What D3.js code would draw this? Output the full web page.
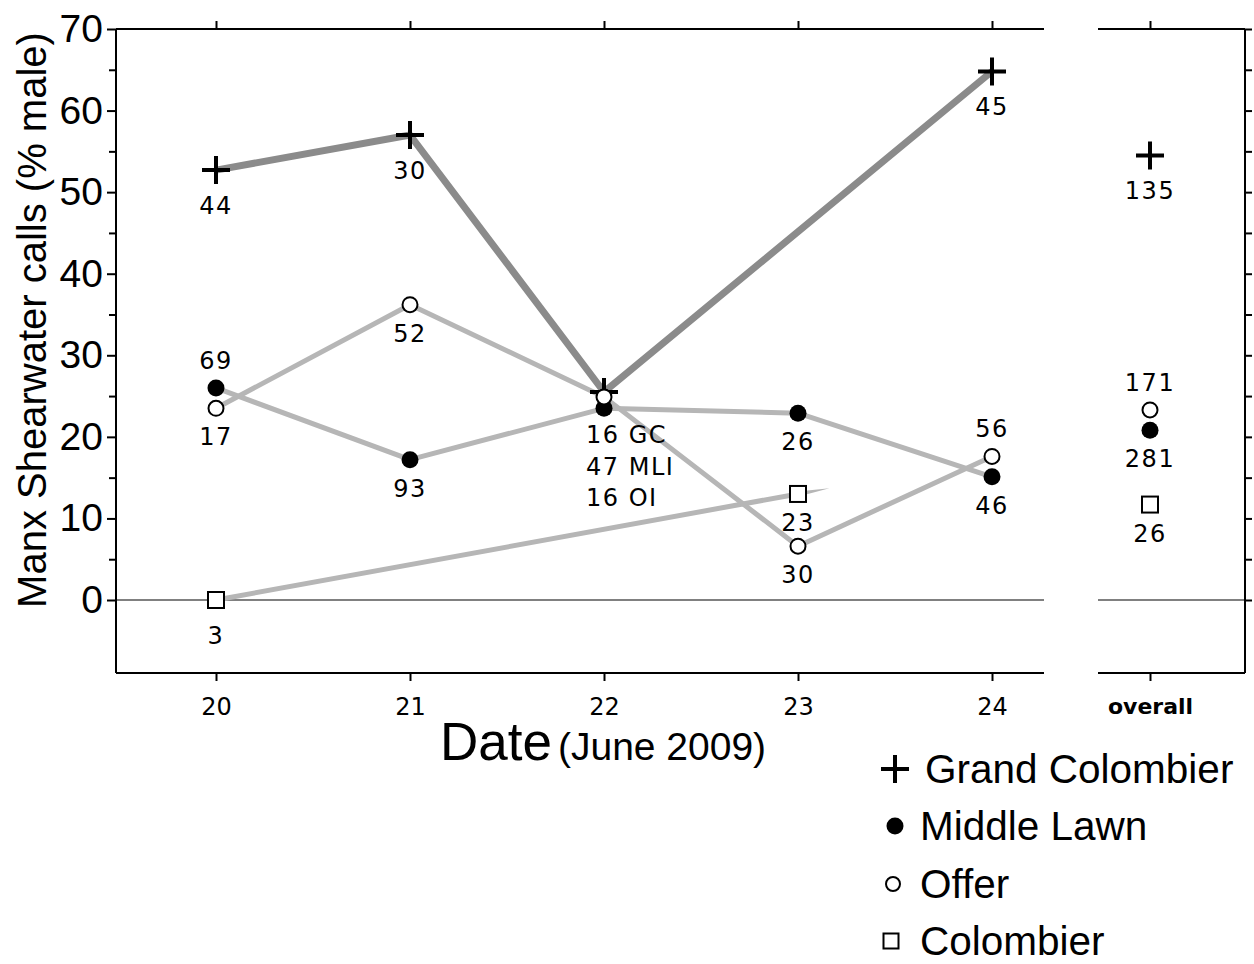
<!DOCTYPE html>
<html>
<head>
<meta charset="utf-8">
<script src="https://cdn.jsdelivr.net/npm/d3@7"></script>
<style>
  body { margin: 0; background: #fff; }
  svg { display: block; }
</style>
</head>
<body>
<svg id="chart" width="1254" height="964"></svg>
<script>
// values (% male calls), null = no sample that day
const days = [20, 21, 22, 23, 24]
const grandColombier = [52.7, 57.0, 25.5, null, 64.8]
const grandColombierN = ["44", "30", null, null, "45"]
const middleLawn = [26.0, 17.2, 23.5, 22.9, 15.1]
const middleLawnN = ["69", "93", null, "26", "46"]
const offer = [23.5, 36.2, 24.9, 6.6, 17.6]
const offerN = ["17", "52", null, "30", "56"]
const colombier = [0, null, null, 13.0, null]
const colombierN = ["3", null, null, "23", null]
const day22N = ["16 GC", "47 MLI", "16 OI"]

// overall column: Grand Colombier, Middle Lawn, Offer, Colombier
const overallValues = [54.5, 20.8, 23.3, 11.7]
const overallN = ["135", "281", "171", "26"]

const yTicks = [0, 10, 20, 30, 40, 50, 60, 70]
const yMinor = [5, 15, 25, 35, 45, 55, 65]
const legendNames = ["Grand Colombier", "Middle Lawn", "Offer", "Colombier"]

const svg = d3.select('#chart')
const frameL = 116, frameR = 1044, frameT = 29, frameB = 673
const pLeft = 1098, pRight = 1245

let x = d3.scaleLinear().domain([20, 24]).range([216, 992])
let y = d3.scaleLinear().domain([0, 70]).range([600, frameT])
let xo = d3.scalePoint().domain(["overall"]).range([pLeft, 1202]).padding(0.5)

const darkLine = '#8b8b8b', lightLine = '#b6b6b6'
const numFont = 'DejaVu Sans'
const sans = 'Liberation Sans, Arial, sans-serif'

// frame lines
let frame = svg.append('g').attr('stroke', '#000').attr('stroke-width', 2).attr('fill', 'none')
frame.append('line').attr('x1', frameL).attr('x2', frameR).attr('y1', frameT).attr('y2', frameT)
frame.append('line').attr('x1', frameL).attr('x2', frameR).attr('y1', frameB).attr('y2', frameB)
frame.append('line').attr('x1', pLeft).attr('x2', pRight).attr('y1', frameT).attr('y2', frameT)
frame.append('line').attr('x1', pLeft).attr('x2', pRight).attr('y1', frameB).attr('y2', frameB)

// zero lines
svg.append('line').attr('x1', frameL).attr('x2', frameR).attr('y1', y(0)).attr('y2', y(0))
  .attr('stroke', '#808080').attr('stroke-width', 2)
svg.append('line').attr('x1', pLeft).attr('x2', pRight).attr('y1', y(0)).attr('y2', y(0))
  .attr('stroke', '#808080').attr('stroke-width', 2)

// left axis
let yAxis = svg.append('g').attr('transform', `translate(${frameL},0)`)
  .call(d3.axisLeft(y).tickValues(yTicks).tickSize(9).tickPadding(4))
yAxis.select('.domain').attr('d', `M0,${frameT}V${frameB}`).attr('stroke-width', 2)
yAxis.selectAll('.tick line').attr('stroke-width', 2)
yAxis.selectAll('.tick text')
  .style('font-family', sans).style('font-size', '39px').attr('fill', '#000')
svg.append('g').attr('transform', `translate(${frameL},0)`)
  .call(d3.axisLeft(y).tickValues(yMinor).tickSize(7).tickFormat(''))
  .call(g => g.select('.domain').remove())
  .selectAll('line').attr('stroke-width', 2)

// right axis
let rAxis = svg.append('g').attr('transform', `translate(${pRight},0)`)
  .call(d3.axisRight(y).tickValues(yTicks.concat(yMinor)).tickSize(7).tickFormat(''))
rAxis.select('.domain').attr('d', `M0,${frameT}V${frameB}`).attr('stroke-width', 2)
rAxis.selectAll('.tick line').attr('stroke-width', 2)

// bottom / top date ticks
let xAxis = svg.append('g').attr('transform', `translate(0,${frameB})`)
  .call(d3.axisBottom(x).tickValues(days).tickSize(8).tickPadding(17).tickFormat(d3.format('d')))
xAxis.select('.domain').remove()
xAxis.selectAll('.tick line').attr('stroke-width', 2)
xAxis.selectAll('.tick text').style('font-family', numFont).style('font-size', '24px').attr('fill', '#000')
svg.append('g').attr('transform', `translate(0,${frameT})`)
  .call(d3.axisTop(x).tickValues(days).tickSize(8).tickFormat(''))
  .call(g => g.select('.domain').remove())
  .selectAll('line').attr('stroke-width', 2)

let oAxis = svg.append('g').attr('transform', `translate(0,${frameB})`)
  .call(d3.axisBottom(xo).tickSize(8).tickPadding(17))
oAxis.select('.domain').remove()
oAxis.selectAll('.tick line').attr('stroke-width', 2)
oAxis.selectAll('.tick text').style('font-family', numFont).style('font-size', '22px')
  .style('font-weight', 'bold').attr('fill', '#000')
svg.append('g').attr('transform', `translate(0,${frameT})`)
  .call(d3.axisTop(xo).tickSize(8).tickFormat(''))
  .call(g => g.select('.domain').remove())
  .selectAll('line').attr('stroke-width', 2)

// series lines
const pts = vals => days.map((d, i) => ({ day: d, v: vals[i] })).filter(p => p.v != null)
let line = d3.line().x(p => x(p.day)).y(p => y(p.v))

svg.append('path').datum(pts(colombier)).attr('d', line)
  .attr('fill', 'none').attr('stroke', lightLine).attr('stroke-width', 5)
// the original line runs a little past the last square and tapers off
{
  let c = pts(colombier)
  let a = c[0], b = c[c.length - 1]
  let dx = x(b.day) - x(a.day), dy = y(b.v) - y(a.v)
  let len = Math.hypot(dx, dy), ux = dx / len, uy = dy / len
  let bx = x(b.day), by = y(b.v), ext = 32
  svg.append('path')
    .attr('d', `M${bx - uy * 2.5},${by + ux * 2.5}L${bx + ux * ext},${by + uy * ext}L${bx + uy * 2.5},${by - ux * 2.5}Z`)
    .attr('fill', lightLine)
}
svg.append('path').datum(pts(offer)).attr('d', line)
  .attr('fill', 'none').attr('stroke', lightLine).attr('stroke-width', 5).attr('stroke-linejoin', 'round')
svg.append('path').datum(pts(middleLawn)).attr('d', line)
  .attr('fill', 'none').attr('stroke', lightLine).attr('stroke-width', 5).attr('stroke-linejoin', 'round')
svg.append('path').datum(pts(grandColombier)).attr('d', line)
  .attr('fill', 'none').attr('stroke', darkLine).attr('stroke-width', 7).attr('stroke-linejoin', 'round')

// markers
const drawPlus = (g, cx, cy, h) => g.append('path')
  .attr('d', `M${cx - h},${cy}H${cx + h}M${cx},${cy - h}V${cy + h}`)
  .attr('stroke', '#000').attr('stroke-width', 4).attr('fill', 'none')
const drawDot = (g, cx, cy, r) => g.append('circle').attr('cx', cx).attr('cy', cy).attr('r', r).attr('fill', '#000')
const drawRing = (g, cx, cy, r) => g.append('circle').attr('cx', cx).attr('cy', cy).attr('r', r)
  .attr('fill', '#fff').attr('stroke', '#000').attr('stroke-width', 2)
const drawSquare = (g, cx, cy, s) => g.append('rect').attr('x', cx - s / 2).attr('y', cy - s / 2)
  .attr('width', s).attr('height', s).attr('fill', '#fff').attr('stroke', '#000').attr('stroke-width', 2)

let marks = svg.append('g')
pts(grandColombier).forEach(p => drawPlus(marks, x(p.day), y(p.v), 14))
pts(middleLawn).forEach(p => drawDot(marks, x(p.day), y(p.v), 8.5))
pts(offer).forEach(p => drawRing(marks, x(p.day), y(p.v), 7.5))
pts(colombier).forEach(p => drawSquare(marks, x(p.day), y(p.v), 16))

let oxc = xo("overall")
drawPlus(marks, oxc, y(overallValues[0]), 14)
drawDot(marks, oxc, y(overallValues[1]), 8.5)
drawRing(marks, oxc, y(overallValues[2]), 7.5)
drawSquare(marks, oxc, y(overallValues[3]), 16)

// sample size labels
let labels = svg.append('g').attr('font-family', numFont).attr('font-size', 24)
  .attr('letter-spacing', 1.5).attr('text-anchor', 'middle').attr('fill', '#000')
const addLabel = (cx, cy, txt, dy) => labels.append('text').attr('x', cx).attr('y', cy + dy).text(txt)
const below = 37, belowPlus = 44, above = -19

days.forEach((d, i) => {
  if (grandColombierN[i]) addLabel(x(d), y(grandColombier[i]), grandColombierN[i], belowPlus)
  if (middleLawnN[i]) addLabel(x(d), y(middleLawn[i]), middleLawnN[i], i === 0 ? above : below)
  if (offerN[i]) addLabel(x(d), y(offer[i]), offerN[i], i === 4 ? above : below)
  if (colombierN[i]) addLabel(x(d), y(colombier[i]), colombierN[i], i === 0 ? belowPlus : below)
})
addLabel(oxc, y(overallValues[0]), overallN[0], belowPlus)
addLabel(oxc, y(overallValues[1]), overallN[1], below)
addLabel(oxc, y(overallValues[2]), overallN[2], above)
addLabel(oxc, y(overallValues[3]), overallN[3], below)

// stacked counts for the 22nd
labels.selectAll('.d22').data(day22N).enter().append('text')
  .attr('text-anchor', 'start')
  .attr('x', x(22) - 18)
  .attr('y', (d, i) => y(middleLawn[2]) + 35 + i * 31.5)
  .text(d => d)

// axis titles
svg.append('text')
  .attr('transform', `translate(46,${(30 + 610) / 2}) rotate(-90)`)
  .attr('text-anchor', 'middle')
  .style('font-family', sans).style('font-size', '40px')
  .text('Manx Shearwater calls (% male)')

let xt = svg.append('text').attr('x', 440).attr('y', 760)
  .style('font-family', sans)
xt.append('tspan').style('font-size', '53px').text('Date')
xt.append('tspan').style('font-size', '39px').attr('dx', 6).text('(June 2009)')

// legend
let legend = svg.append('g')
const legendY = [769, 826, 884, 941]
const legendSym = [
  (g, cy) => drawPlus(g, 895, cy, 14),
  (g, cy) => drawDot(g, 895, cy, 8.5),
  (g, cy) => drawRing(g, 893, cy, 7),
  (g, cy) => drawSquare(g, 891, cy, 15)
]
legendNames.forEach((name, i) => {
  legendSym[i](legend, legendY[i])
  legend.append('text').attr('x', i === 0 ? 925 : 920).attr('y', legendY[i] + 14)
    .style('font-family', sans).style('font-size', '40.5px')
    .text(name)
})
</script>
</body>
</html>
